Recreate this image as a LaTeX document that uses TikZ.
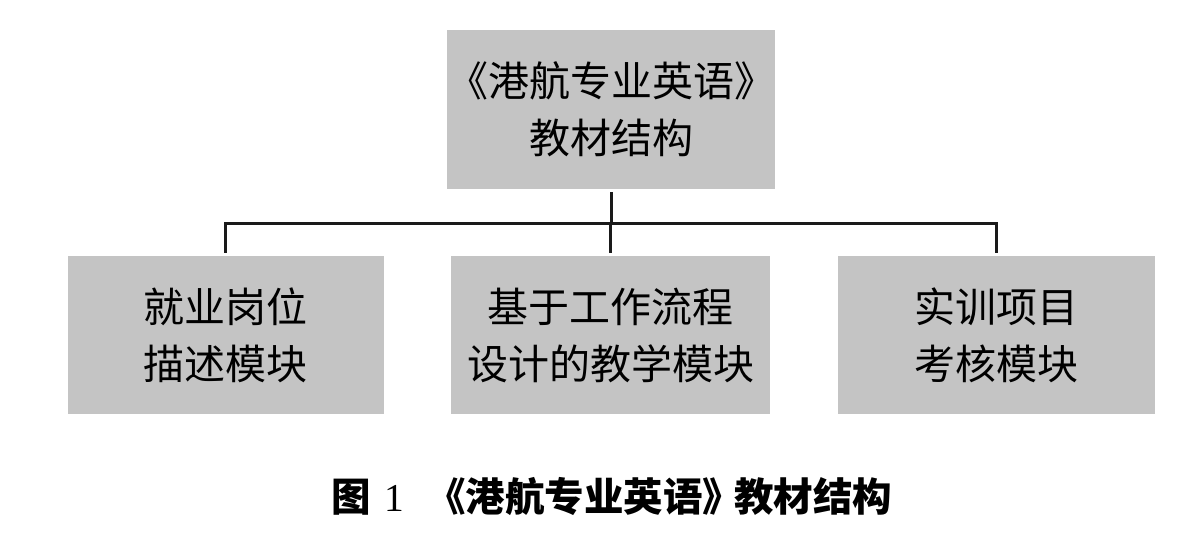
\documentclass[tikz,border=0pt]{standalone}
\usepackage{fontspec}
\newfontfamily\cjk{Noto Sans CJK SC}
\newfontfamily\serifnum{Liberation Serif}
\definecolor{boxgray}{HTML}{C4C4C4}
\definecolor{linecol}{HTML}{1A1A1A}
\tikzset{
  box/.style={fill=boxgray, draw=none, inner sep=0pt, align=center,
    font=\cjk\fontsize{41}{57}\selectfont},
  conn/.style={draw=linecol, line width=3pt},
}
\begin{document}
\begin{tikzpicture}[x=1pt, y=-1pt]
\useasboundingbox (0,0) rectangle (1200,542);
\fill[white] (0,0) rectangle (1200,542);
\node[box, minimum width=319pt, minimum height=159pt] (top) at (611,109.5) {《港航专业英语》\\教材结构};
\node[box, minimum width=316pt, minimum height=158pt] (b1) at (225.5,335) {就业岗位\\描述模块};
\node[box, minimum width=319pt, minimum height=158pt] (b2) at (610.5,335) {基于工作流程\\设计的教学模块};
\node[box, minimum width=317pt, minimum height=158pt] (b3) at (996.5,335) {实训项目\\考核模块};
\coordinate (bus) at (0,223);
\draw[conn, shorten <=3pt] (top.south) -- (top.south |- bus);
\draw[conn, line cap=rect] (b1.north |- bus) -- (b3.north |- bus);
\foreach \b in {b1,b2,b3}
  \draw[conn, shorten >=3pt] (\b.north |- bus) -- (\b.north);
\node[inner sep=0pt, font=\cjk\bfseries\fontsize{39.5}{41}\selectfont] (cap) at (612,497)
  {图\hspace{13pt}{\serifnum\mdseries 1}\hspace{22pt}《港航专业英语》\hspace{-8pt}教材结构};
\end{tikzpicture}
\end{document}
